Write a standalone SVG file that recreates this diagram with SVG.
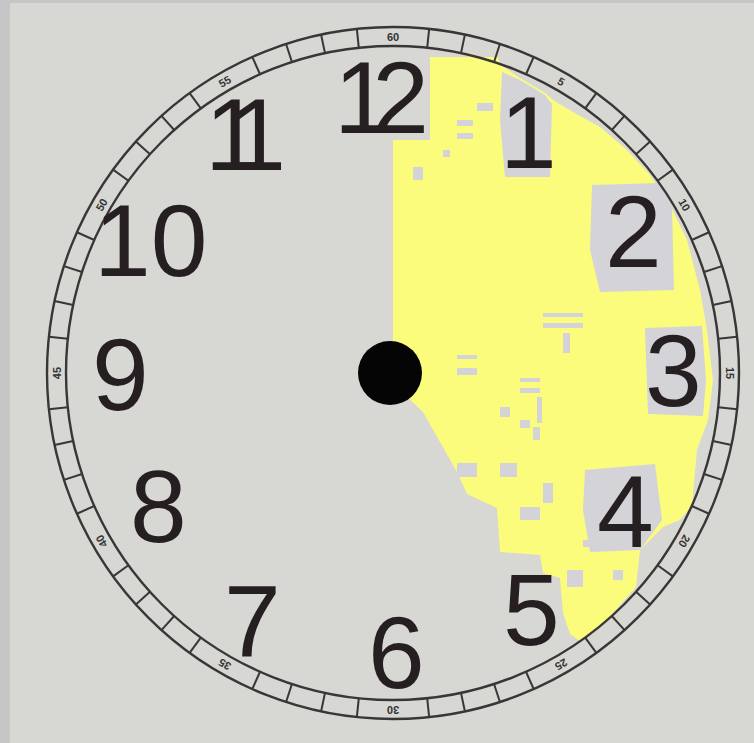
<svg xmlns="http://www.w3.org/2000/svg" xmlns:xlink="http://www.w3.org/1999/xlink" width="754" height="743" viewBox="0 0 754 743">
<style>
.num{font-family:"Liberation Sans",Arial,sans-serif;font-size:102px;fill:#251f21}
.min{font-family:"Liberation Sans",Arial,sans-serif;font-size:11px;font-weight:bold;fill:#333;text-anchor:middle;dominant-baseline:central}
.ring{fill:none;stroke:#3a3636;stroke-width:2.4}
.tick{stroke:#3a3636;stroke-width:2}
.gp{fill:#d3d3d8}
</style>
<defs>
<line id="t" class="tick" x1="393" y1="27" x2="393" y2="46"/>
</defs>
<g id="background">
<rect x="0" y="0" width="754" height="743" fill="#c6c6c6"/>
<rect x="10" y="3" width="744" height="740" fill="#d7d7d4"/>
</g>
<g id="yellow-area">
<polygon fill="#fcfc7c" points="430,57 497,57 502,66 520,78 545,93 553,100 573,112 600,127 627,150 650,175 670,205 687,240 700,290 707,330 713,380 708,420 697,450 692,505 680,520 663,527 640,550 636,587 613,613 593,633 580,641 570,634 563,613 560,578 543,573 540,555 500,552 497,508 467,494 457,472 423,412 405,395 393,372 393,140 430,140"/>
<polygon class="gp" points="502,72 520,80 545,95 552,104 550,177 505,177 500,120"/>
<polygon class="gp" points="592,185 660,183 672,205 674,290 600,292 590,250"/>
<polygon class="gp" points="645,328 702,326 706,380 703,416 648,414"/>
<polygon class="gp" points="585,470 655,464 662,520 640,550 590,552 583,510"/>
<rect class="gp" x="457" y="120" width="16" height="6"/>
<rect class="gp" x="457" y="133" width="16" height="6"/>
<rect class="gp" x="413" y="167" width="10" height="13"/>
<rect class="gp" x="443" y="150" width="7" height="7"/>
<rect class="gp" x="477" y="103" width="16" height="8"/>
<rect class="gp" x="457" y="355" width="20" height="4"/>
<rect class="gp" x="457" y="368" width="20" height="7"/>
<rect class="gp" x="520" y="378" width="20" height="4"/>
<rect class="gp" x="520" y="388" width="20" height="5"/>
<rect class="gp" x="543" y="313" width="40" height="4"/>
<rect class="gp" x="543" y="323" width="40" height="5"/>
<rect class="gp" x="563" y="333" width="7" height="20"/>
<rect class="gp" x="500" y="407" width="10" height="10"/>
<rect class="gp" x="520" y="420" width="10" height="8"/>
<rect class="gp" x="533" y="427" width="7" height="13"/>
<rect class="gp" x="537" y="397" width="5" height="26"/>
<rect class="gp" x="457" y="463" width="20" height="14"/>
<rect class="gp" x="500" y="463" width="17" height="14"/>
<rect class="gp" x="543" y="483" width="10" height="20"/>
<rect class="gp" x="520" y="507" width="20" height="13"/>
<rect class="gp" x="613" y="570" width="10" height="10"/>
<rect class="gp" x="583" y="540" width="24" height="7"/>
<rect class="gp" x="567" y="570" width="16" height="17"/>
</g>
<g id="dial">
<circle class="ring" cx="393" cy="373" r="346"/>
<circle class="ring" cx="393" cy="373" r="327"/>
</g>
<g id="ticks">
<use xlink:href="#t" transform="rotate(6 393 373)"/>
<use xlink:href="#t" transform="rotate(12 393 373)"/>
<use xlink:href="#t" transform="rotate(18 393 373)"/>
<use xlink:href="#t" transform="rotate(24 393 373)"/>
<use xlink:href="#t" transform="rotate(36 393 373)"/>
<use xlink:href="#t" transform="rotate(42 393 373)"/>
<use xlink:href="#t" transform="rotate(48 393 373)"/>
<use xlink:href="#t" transform="rotate(54 393 373)"/>
<use xlink:href="#t" transform="rotate(66 393 373)"/>
<use xlink:href="#t" transform="rotate(72 393 373)"/>
<use xlink:href="#t" transform="rotate(78 393 373)"/>
<use xlink:href="#t" transform="rotate(84 393 373)"/>
<use xlink:href="#t" transform="rotate(96 393 373)"/>
<use xlink:href="#t" transform="rotate(102 393 373)"/>
<use xlink:href="#t" transform="rotate(108 393 373)"/>
<use xlink:href="#t" transform="rotate(114 393 373)"/>
<use xlink:href="#t" transform="rotate(126 393 373)"/>
<use xlink:href="#t" transform="rotate(132 393 373)"/>
<use xlink:href="#t" transform="rotate(138 393 373)"/>
<use xlink:href="#t" transform="rotate(144 393 373)"/>
<use xlink:href="#t" transform="rotate(156 393 373)"/>
<use xlink:href="#t" transform="rotate(162 393 373)"/>
<use xlink:href="#t" transform="rotate(168 393 373)"/>
<use xlink:href="#t" transform="rotate(174 393 373)"/>
<use xlink:href="#t" transform="rotate(186 393 373)"/>
<use xlink:href="#t" transform="rotate(192 393 373)"/>
<use xlink:href="#t" transform="rotate(198 393 373)"/>
<use xlink:href="#t" transform="rotate(204 393 373)"/>
<use xlink:href="#t" transform="rotate(216 393 373)"/>
<use xlink:href="#t" transform="rotate(222 393 373)"/>
<use xlink:href="#t" transform="rotate(228 393 373)"/>
<use xlink:href="#t" transform="rotate(234 393 373)"/>
<use xlink:href="#t" transform="rotate(246 393 373)"/>
<use xlink:href="#t" transform="rotate(252 393 373)"/>
<use xlink:href="#t" transform="rotate(258 393 373)"/>
<use xlink:href="#t" transform="rotate(264 393 373)"/>
<use xlink:href="#t" transform="rotate(276 393 373)"/>
<use xlink:href="#t" transform="rotate(282 393 373)"/>
<use xlink:href="#t" transform="rotate(288 393 373)"/>
<use xlink:href="#t" transform="rotate(294 393 373)"/>
<use xlink:href="#t" transform="rotate(306 393 373)"/>
<use xlink:href="#t" transform="rotate(312 393 373)"/>
<use xlink:href="#t" transform="rotate(318 393 373)"/>
<use xlink:href="#t" transform="rotate(324 393 373)"/>
<use xlink:href="#t" transform="rotate(336 393 373)"/>
<use xlink:href="#t" transform="rotate(342 393 373)"/>
<use xlink:href="#t" transform="rotate(348 393 373)"/>
<use xlink:href="#t" transform="rotate(354 393 373)"/>
</g>
<g id="minute-labels">
<text class="min" x="393" y="36.5">60</text>
<text class="min" x="393" y="36.5" transform="rotate(30 393 373)">5</text>
<text class="min" x="393" y="36.5" transform="rotate(60 393 373)">10</text>
<text class="min" x="393" y="36.5" transform="rotate(90 393 373)">15</text>
<text class="min" x="393" y="36.5" transform="rotate(120 393 373)">20</text>
<text class="min" x="393" y="36.5" transform="rotate(150 393 373)">25</text>
<text class="min" x="393" y="36.5" transform="rotate(180 393 373)">30</text>
<text class="min" x="393" y="36.5" transform="rotate(210 393 373)">35</text>
<text class="min" x="393" y="36.5" transform="rotate(240 393 373)">40</text>
<text class="min" x="393" y="36.5" transform="rotate(270 393 373)">45</text>
<text class="min" x="393" y="36.5" transform="rotate(300 393 373)">50</text>
<text class="min" x="393" y="36.5" transform="rotate(330 393 373)">55</text>
</g>
<g id="hour-12"><text class="num" x="334" y="133" letter-spacing="-18.5">12</text></g>
<g id="hour-1"><text class="num" x="500" y="168">1</text></g>
<g id="hour-2"><text class="num" x="605" y="267">2</text></g>
<g id="hour-3"><text class="num" x="645" y="406">3</text></g>
<g id="hour-4"><text class="num" x="597" y="547">4</text></g>
<g id="hour-5"><text class="num" x="503" y="645">5</text></g>
<g id="hour-6"><text class="num" x="368" y="688">6</text></g>
<g id="hour-7"><text class="num" x="224" y="657">7</text></g>
<g id="hour-8"><text class="num" x="130" y="542">8</text></g>
<g id="hour-9"><text class="num" x="92" y="410">9</text></g>
<g id="hour-10"><text class="num" x="94" y="276">10</text></g>
<g id="hour-11"><text class="num" x="205" y="170" letter-spacing="-25">11</text></g>
<g id="hub"><circle cx="390" cy="373" r="32" fill="#050505"/></g>
</svg>
